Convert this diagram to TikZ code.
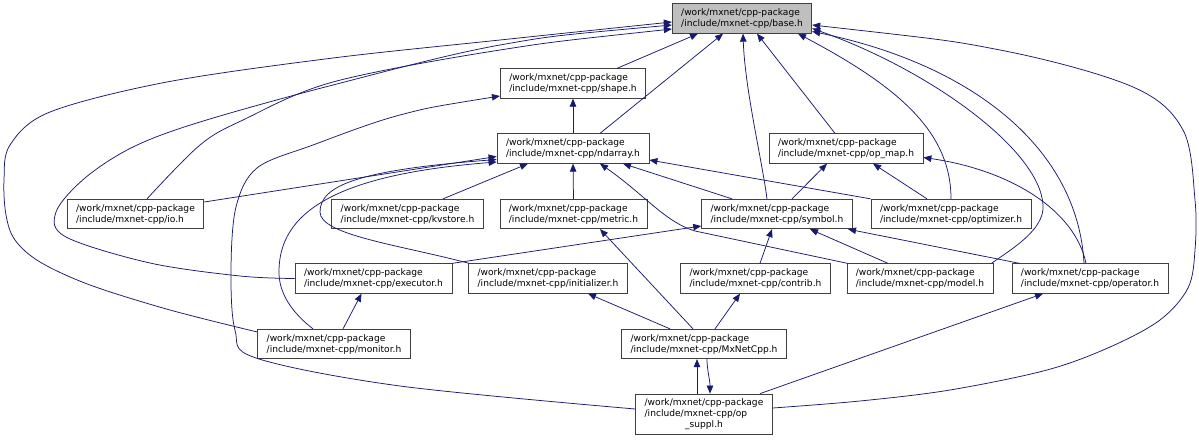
\documentclass[tikz,border=0pt]{standalone}
\usepackage{fontspec}
\newfontfamily\dvs{DejaVu Sans}
\usetikzlibrary{calc,arrows.meta}
\definecolor{edgecol}{HTML}{191970}
\definecolor{basefill}{HTML}{BFBFBF}
\definecolor{boxline}{HTML}{404040}
\begin{document}
\begin{tikzpicture}[x=1pt,y=-1pt,
  filebox/.style={draw=boxline, fill=white, line width=0.8pt, inner xsep=9pt, inner ysep=2pt,
    minimum height=29.5pt, align=left, font=\dvs\fontsize{9.1}{11}\selectfont, text=black},
  dep/.style={draw=edgecol, line width=0.75pt, {Triangle[length=8pt,width=6.5pt]}-},
  sm/.style={smooth, tension=0.55}
]
\useasboundingbox (0,0) rectangle (1199,439);

% nodes
\node[filebox, fill=basefill] (base) at (742,18.5) {/work/mxnet/cpp-package\\/include/mxnet-cpp/base.h};
\node[filebox] (shape) at (573,83.5) {/work/mxnet/cpp-package\\/include/mxnet-cpp/shape.h};
\node[filebox] (ndarray) at (573,148.5) {/work/mxnet/cpp-package\\/include/mxnet-cpp/ndarray.h};
\node[filebox] (opmap) at (846,148.5) {/work/mxnet/cpp-package\\/include/mxnet-cpp/op\_map.h};
\node[filebox] (io) at (135.5,214) {/work/mxnet/cpp-package\\/include/mxnet-cpp/io.h};
\node[filebox] (kvstore) at (407.5,214) {/work/mxnet/cpp-package\\/include/mxnet-cpp/kvstore.h};
\node[filebox] (metric) at (573.5,214) {/work/mxnet/cpp-package\\/include/mxnet-cpp/metric.h};
\node[filebox] (symbol) at (777,214) {/work/mxnet/cpp-package\\/include/mxnet-cpp/symbol.h};
\node[filebox] (optimizer) at (951,214) {/work/mxnet/cpp-package\\/include/mxnet-cpp/optimizer.h};
\node[filebox] (executor) at (373.5,278.5) {/work/mxnet/cpp-package\\/include/mxnet-cpp/executor.h};
\node[filebox] (initializer) at (548,278.5) {/work/mxnet/cpp-package\\/include/mxnet-cpp/initializer.h};
\node[filebox] (contrib) at (755.5,278.5) {/work/mxnet/cpp-package\\/include/mxnet-cpp/contrib.h};
\node[filebox] (model) at (920,278.5) {/work/mxnet/cpp-package\\/include/mxnet-cpp/model.h};
\node[filebox] (operator) at (1090,278.5) {/work/mxnet/cpp-package\\/include/mxnet-cpp/operator.h};
\node[filebox] (monitor) at (334,344) {/work/mxnet/cpp-package\\/include/mxnet-cpp/monitor.h};
\node[filebox] (mxnetcpp) at (704,344) {/work/mxnet/cpp-package\\/include/mxnet-cpp/MxNetCpp.h};
\node[filebox, minimum height=40pt] (opsuppl) at (704,414)
  {\begin{tabular}{@{}l@{}}/work/mxnet/cpp-package\\/include/mxnet-cpp/op\\\multicolumn{1}{@{}c@{}}{\_suppl.h}\end{tabular}};

% helper coordinates for long curves
\coordinate (bIo) at ($(base.west)+(0,10.5)$);
\coordinate (bEx) at ($(base.west)+(0,6.5)$);
\coordinate (bMo) at ($(base.west)+(0,3.5)$);
\coordinate (bSu) at ($(base.east)+(0,6.5)$);
\coordinate (ioT) at ($(io.north)+(11.5,0)$);
\coordinate (moL) at ($(monitor.west)+(0,-12)$);
\coordinate (shL) at ($(shape.west)+(0,12.5)$);
\coordinate (suL) at ($(opsuppl.west)+(0,-5)$);
\coordinate (suR) at ($(opsuppl.east)+(0,-6)$);

% edges into base
\draw[dep] ($(base.south)+(-44,0)$) -- ($(shape.north)+(44,0)$);
\draw[dep] ($(base.south)+(-19,0)$) -- ($(ndarray.north)+(27,0)$);
\draw[dep] ($(base.south)+(1,0)$) .. controls (745,90) and (762,160) .. ($(symbol.north)+(-10,0)$);
\draw[dep] ($(base.south)+(15,0)$) -- ($(opmap.north)+(-11,0)$);
\draw[dep] ($(base.south)+(56,0)$) .. controls (895,85) and (951,130) .. (optimizer.north);
\draw[dep] ($(base.east)+(0,10)$) .. controls (930,70) and (1040,150) .. (1043,205)
   .. controls (1045,230) and (1010,250) .. ($(model.north east)+(-2,0)$);
\draw[dep] ($(base.east)+(0,13)$) .. controls (975,65) and (1078,150) .. ($(operator.north)+(-6,0)$);
\draw[dep] plot[sm] coordinates {(bSu) (1000,50) (1133,87) (1183,130) (1195,200) (1195,250)
   (1188,288) (1160,320) (1110,347) (1047,370) (950,390) (860,401) (suR)};
\draw[dep] plot[sm] coordinates {(bIo) (500,50) (333,82) (243,120) (200,145) (ioT)};
\draw[dep] plot[sm] coordinates {(bEx) (500,45) (333,85) (200,122) (133,147) (85,178) (56,212)
   (66,237) (150,263) (240,276) (executor.west)};
\draw[dep] plot[sm] coordinates {(bMo) (500,40) (333,58) (167,82) (50,112) (10,145) (4,180)
   (6,215) (15,240) (40,262) (90,285) (170,310) (moL)};

% edges into shape
\draw[dep] (shape.south) -- (ndarray.north);
\draw[dep] plot[sm] coordinates {(shL) (400,115) (313,145) (257,168) (236,207) (231,270)
   (235,330) (256,358) (400,386) (suL)};

% edges into ndarray
\draw[dep] ($(ndarray.west)+(0,8)$) -- ($(io.east)+(0,-12)$);
\draw[dep] ($(ndarray.west)+(0,11)$) .. controls (360,170) and (320,185) .. (320,212)
   .. controls (320,235) and (400,245) .. ($(initializer.north west)+(1,0)$);
\draw[dep] ($(ndarray.west)+(0,13.5)$) .. controls (330,175) and (280,215) .. (279,270)
   .. controls (278,295) and (295,315) .. ($(monitor.north)+(-21,0)$);
\draw[dep] ($(ndarray.south)+(-45,0)$) -- ($(kvstore.north)+(35.5,0)$);
\draw[dep] (ndarray.south) -- (metric.north);
\draw[dep] ($(ndarray.south)+(27,0)$) .. controls (645,195) and (665,222) .. (695,231)
   -- ($(model.north west)+(1,0)$);
\draw[dep] ($(ndarray.south)+(50,0)$) -- ($(symbol.north)+(-45,0)$);
\draw[dep] ($(ndarray.east)+(0,11.5)$) -- (optimizer.north west);

% edges into op_map
\draw[dep] ($(opmap.south)+(-19,0)$) -- ($(symbol.north)+(15,0)$);
\draw[dep] ($(opmap.south)+(27,0)$) -- ($(optimizer.north)+(-24,0)$);
\draw[dep] ($(opmap.east)+(0,9)$) .. controls (1010,170) and (1075,210) .. ($(operator.north)+(-4,0)$);

% edges into symbol
\draw[dep] ($(symbol.west)+(0,12)$) -- (executor.north east);
\draw[dep] ($(symbol.south)+(-5,0)$) -- ($(contrib.north)+(4.5,0)$);
\draw[dep] ($(symbol.south)+(33,0)$) -- ($(model.north)+(-32,0)$);
\draw[dep] ($(symbol.south)+(71,0)$) -- ($(operator.north west)+(8,0)$);

% remaining edges
\draw[dep] ($(executor.south)+(-12,0)$) -- ($(monitor.north)+(9,0)$);
\draw[dep] ($(initializer.south)+(40,0)$) -- ($(mxnetcpp.north)+(-34,0)$);
\draw[dep] ($(metric.south)+(26.5,0)$) -- ($(mxnetcpp.north)+(-11,0)$);
\draw[dep] ($(contrib.south)+(-15.5,0)$) -- ($(mxnetcpp.north)+(11,0)$);
\draw[dep] ($(operator.south)+(-47,0)$) -- ($(opsuppl.north)+(56,0)$);
\draw[dep] ($(mxnetcpp.south)+(-7,0)$) -- ($(opsuppl.north)+(-7,0)$);
\draw[dep] ($(opsuppl.north)+(6,0)$) .. controls (710,380) and (707,370) .. ($(mxnetcpp.south)+(3,0)$);
\end{tikzpicture}
\end{document}
